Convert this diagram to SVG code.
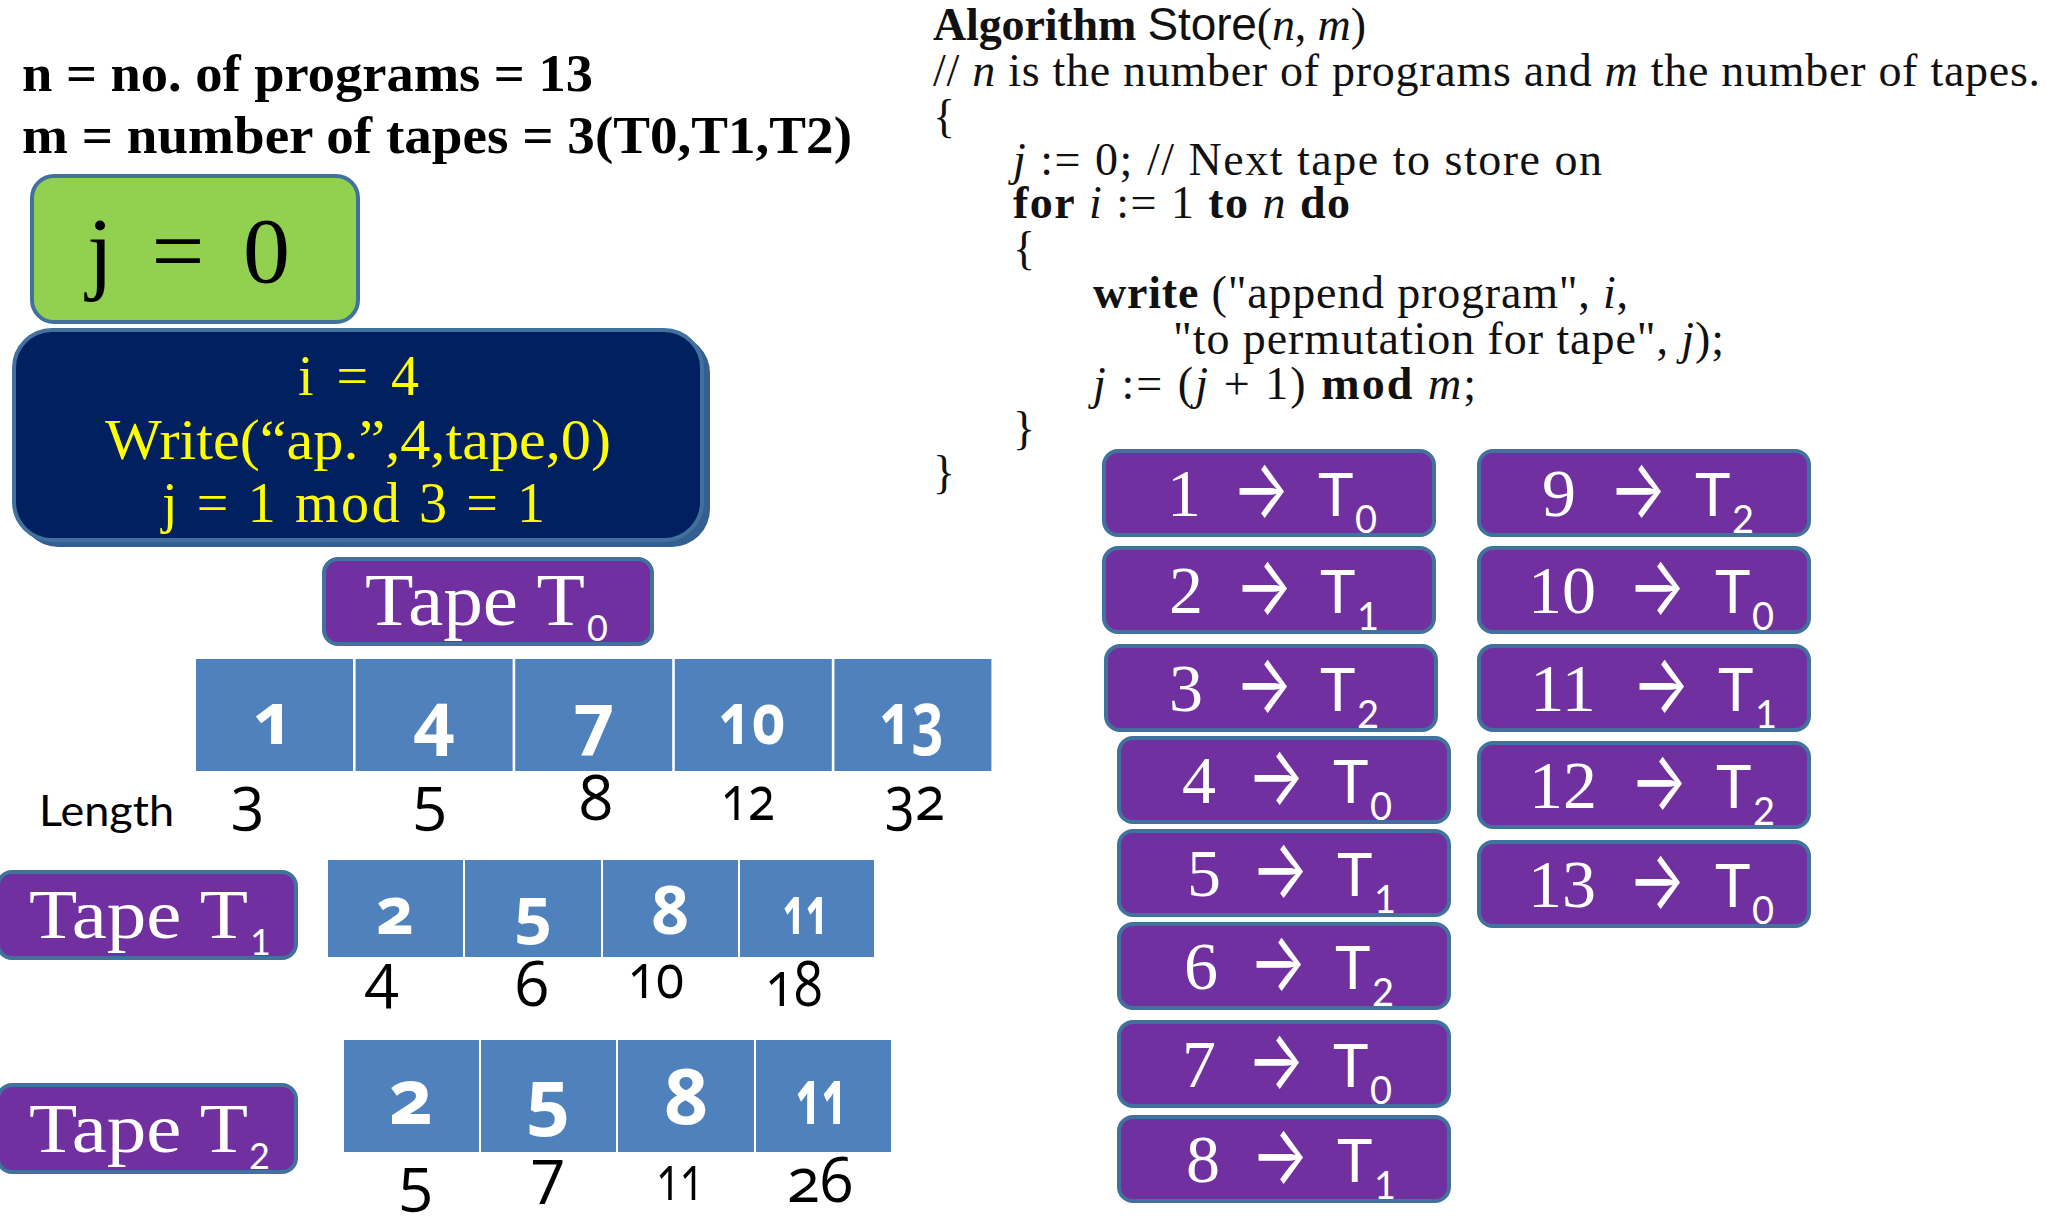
<svg xmlns="http://www.w3.org/2000/svg" width="2048" height="1229" viewBox="0 0 2048 1229">
<style>
.bx{stroke:#41719C;stroke-width:4}
.pu{fill:#7030A0}
.cell{fill:#4F81BD}
.sf{font-family:"Liberation Serif","Times New Roman",serif}
.ss{font-family:Lato,"Open Sans","Liberation Sans",sans-serif}
.ar{font-family:Inter,"DejaVu Sans",sans-serif;font-weight:400}
.w{fill:#FFFFFF}
.k{fill:#000000}
.y{fill:#FFFF00}
.num{font-size:68px}
.tt{font-size:60px}
.sub{font-size:38px}
.arr{font-size:84px}
.alg{font-family:"Liberation Serif","Times New Roman",serif;font-size:46px;fill:#111}
.b{font-weight:bold}
.i{font-style:italic}
.cs{font-family:"Open Sans","Noto Sans",sans-serif;font-weight:bold;fill:#FFFFFF;text-anchor:middle;font-variant-numeric:oldstyle-nums;font-feature-settings:"onum" 1}
.ln{font-family:"Open Sans","Noto Sans",sans-serif;font-size:62px;fill:#000;text-anchor:middle;font-variant-numeric:oldstyle-nums;font-feature-settings:"onum" 1}
</style>
<rect width="2048" height="1229" fill="#FFFFFF"/>

<g id="header">
<text class="sf b k" x="22" y="91" font-size="52" textLength="571" lengthAdjust="spacingAndGlyphs">n = no. of programs = 13</text>
<text class="sf b k" x="22" y="153" font-size="52" textLength="830" lengthAdjust="spacingAndGlyphs">m = number of tapes = 3(T0,T1,T2)</text>
</g>

<g id="j-box">
<rect class="bx" x="32" y="176" width="326" height="146" rx="22" fill="#92D050"/>
<text class="sf k" x="87" y="282" font-size="94" textLength="203" lengthAdjust="spacing">j = 0</text>
</g>

<g id="step-box">
<rect x="20" y="335" width="690" height="212" rx="38" fill="#365F91"/>
<rect class="bx" x="14" y="330" width="688" height="210" rx="38" fill="#002060"/>
<text class="sf y" x="298" y="395" font-size="56" textLength="121" lengthAdjust="spacing">i = 4</text>
<text class="sf y" x="105" y="459" font-size="56" textLength="506" lengthAdjust="spacingAndGlyphs">Write(“ap.”,4,tape,0)</text>
<text class="sf y" x="162" y="522" font-size="56" textLength="383" lengthAdjust="spacing">j = 1 mod 3 = 1</text>
</g>

<g id="tape-t0-label">
<rect class="bx pu" x="324" y="559" width="328" height="85" rx="14"/>
<text class="sf w" x="365" y="625" font-size="74" textLength="220" lengthAdjust="spacingAndGlyphs">Tape T</text>
<text class="ss w" x="587" y="641" font-size="36">0</text>
</g>

<g id="tape-t0">
<rect class="cell" x="196" y="659" width="157" height="112"/>
<rect class="cell" x="355.6" y="659" width="157" height="112"/>
<rect class="cell" x="515.2" y="659" width="157" height="112"/>
<rect class="cell" x="674.8" y="659" width="157" height="112"/>
<rect class="cell" x="834.4" y="659" width="157" height="112"/>
<text class="cs" font-size="72" x="274" y="744">1</text>
<text class="cs" font-size="72" x="434" y="744">4</text>
<text class="cs" font-size="72" x="594" y="744">7</text>
<text class="cs" font-size="72" x="752" y="744" textLength="66" lengthAdjust="spacingAndGlyphs">10</text>
<text class="cs" font-size="72" x="912" y="744" textLength="64" lengthAdjust="spacingAndGlyphs">13</text>
</g>

<g id="tape-t0-lengths">
<text x="39" y="826" font-family="Lato, 'Liberation Sans', sans-serif" font-size="42" fill="#000" textLength="135" lengthAdjust="spacingAndGlyphs">Length</text>
<text class="ln" x="248" y="820">3</text>
<text class="ln" x="430" y="820">5</text>
<text class="ln" x="596" y="820">8</text>
<text class="ln" x="748" y="820" textLength="54" lengthAdjust="spacingAndGlyphs">12</text>
<text class="ln" x="915" y="820" textLength="60" lengthAdjust="spacingAndGlyphs">32</text>
</g>

<g id="tape-t1-label">
<rect class="bx pu" x="-2" y="872" width="298" height="86" rx="14"/>
<text class="sf w" x="29" y="938" font-size="70" textLength="219" lengthAdjust="spacingAndGlyphs">Tape T</text>
<text class="ss w" x="250" y="955" font-size="36">1</text>
</g>

<g id="tape-t1">
<rect class="cell" x="328" y="860" width="135" height="97"/>
<rect class="cell" x="465" y="860" width="136" height="97"/>
<rect class="cell" x="603" y="860" width="135" height="97"/>
<rect class="cell" x="740" y="860" width="134" height="97"/>
<text class="cs" font-size="66" x="395" y="934">2</text>
<text class="cs" font-size="66" x="533" y="934">5</text>
<text class="cs" font-size="66" x="670" y="934">8</text>
<text class="cs" font-size="66" x="806" y="934" textLength="46" lengthAdjust="spacingAndGlyphs">11</text>
</g>

<g id="tape-t1-lengths">
<text class="ln" x="382" y="998">4</text>
<text class="ln" x="532" y="1006">6</text>
<text class="ln" x="656" y="998" textLength="56" lengthAdjust="spacingAndGlyphs">10</text>
<text class="ln" x="794" y="1006" textLength="57" lengthAdjust="spacingAndGlyphs">18</text>
</g>

<g id="tape-t2-label">
<rect class="bx pu" x="-2" y="1085" width="298" height="87" rx="14"/>
<text class="sf w" x="29" y="1152" font-size="70" textLength="219" lengthAdjust="spacingAndGlyphs">Tape T</text>
<text class="ss w" x="249" y="1169" font-size="36">2</text>
</g>

<g id="tape-t2">
<rect class="cell" x="344" y="1040" width="135" height="112"/>
<rect class="cell" x="481" y="1040" width="135" height="112"/>
<rect class="cell" x="618" y="1040" width="136" height="112"/>
<rect class="cell" x="756" y="1040" width="135" height="112"/>
<text class="cs" font-size="77" x="411" y="1124">2</text>
<text class="cs" font-size="77" x="548" y="1124">5</text>
<text class="cs" font-size="77" x="686" y="1124">8</text>
<text class="cs" font-size="77" x="822" y="1124" textLength="52" lengthAdjust="spacingAndGlyphs">11</text>
</g>

<g id="tape-t2-lengths">
<text class="ln" x="416" y="1201">5</text>
<text class="ln" x="548" y="1193">7</text>
<text class="ln" x="680" y="1200" textLength="47" lengthAdjust="spacingAndGlyphs">11</text>
<text class="ln" x="820" y="1202" textLength="66" lengthAdjust="spacingAndGlyphs">26</text>
</g>

<g id="algorithm">
<text class="alg" x="933" y="40" textLength="433" lengthAdjust="spacing"><tspan class="b">Algorithm</tspan> <tspan font-family="'Liberation Sans',sans-serif">Store</tspan>(<tspan class="i">n</tspan>, <tspan class="i">m</tspan>)</text>
<text class="alg" x="933" y="86" textLength="1107" lengthAdjust="spacing">// <tspan class="i">n</tspan> is the number of programs and <tspan class="i">m</tspan> the number of tapes.</text>
<text class="alg" x="933" y="132">{</text>
<text class="alg" x="1013" y="175" textLength="589" lengthAdjust="spacing"><tspan class="i">j</tspan> := 0; // Next tape to store on</text>
<text class="alg" x="1013" y="218" textLength="337" lengthAdjust="spacing"><tspan class="b">for</tspan> <tspan class="i">i</tspan> := 1 <tspan class="b">to</tspan> <tspan class="i">n</tspan> <tspan class="b">do</tspan></text>
<text class="alg" x="1013" y="264">{</text>
<text class="alg" x="1093" y="308" textLength="535" lengthAdjust="spacing"><tspan class="b">write</tspan> ("append program", <tspan class="i">i</tspan>,</text>
<text class="alg" x="1173" y="354" textLength="551" lengthAdjust="spacing">"to permutation for tape", <tspan class="i">j</tspan>);</text>
<text class="alg" x="1093" y="399" textLength="383" lengthAdjust="spacing"><tspan class="i">j</tspan> := (<tspan class="i">j</tspan> + 1) <tspan class="b">mod</tspan> <tspan class="i">m</tspan>;</text>
<text class="alg" x="1013" y="444">}</text>
<text class="alg" x="933" y="488">}</text>
</g>

<g id="map-1" transform="translate(1104,451)">
<rect class="bx pu" width="330" height="84" rx="14"/>
<text class="sf w num" x="80" y="65" text-anchor="middle">1</text>
<text class="ar w arr" x="128" y="67" textLength="58" lengthAdjust="spacingAndGlyphs">→</text>
<text class="ss w tt" x="214" y="65">T</text>
<text class="ss w sub" x="251" y="82">0</text>
</g>
<g id="map-2" transform="translate(1104,548)">
<rect class="bx pu" width="330" height="84" rx="14"/>
<text class="sf w num" x="82" y="65" text-anchor="middle">2</text>
<text class="ar w arr" x="131" y="67" textLength="58" lengthAdjust="spacingAndGlyphs">→</text>
<text class="ss w tt" x="216" y="65">T</text>
<text class="ss w sub" x="253" y="82">1</text>
</g>
<g id="map-3" transform="translate(1106,646)">
<rect class="bx pu" width="330" height="84" rx="14"/>
<text class="sf w num" x="80" y="65" text-anchor="middle">3</text>
<text class="ar w arr" x="129" y="67" textLength="58" lengthAdjust="spacingAndGlyphs">→</text>
<text class="ss w tt" x="214" y="65">T</text>
<text class="ss w sub" x="251" y="82">2</text>
</g>
<g id="map-4" transform="translate(1119,738)">
<rect class="bx pu" width="330" height="84" rx="14"/>
<text class="sf w num" x="80" y="65" text-anchor="middle">4</text>
<text class="ar w arr" x="128" y="67" textLength="58" lengthAdjust="spacingAndGlyphs">→</text>
<text class="ss w tt" x="214" y="65">T</text>
<text class="ss w sub" x="251" y="82">0</text>
</g>
<g id="map-5" transform="translate(1119,831)">
<rect class="bx pu" width="330" height="84" rx="14"/>
<text class="sf w num" x="85" y="65" text-anchor="middle">5</text>
<text class="ar w arr" x="132" y="67" textLength="58" lengthAdjust="spacingAndGlyphs">→</text>
<text class="ss w tt" x="218" y="65">T</text>
<text class="ss w sub" x="255" y="82">1</text>
</g>
<g id="map-6" transform="translate(1119,924)">
<rect class="bx pu" width="330" height="84" rx="14"/>
<text class="sf w num" x="82" y="65" text-anchor="middle">6</text>
<text class="ar w arr" x="130" y="67" textLength="58" lengthAdjust="spacingAndGlyphs">→</text>
<text class="ss w tt" x="216" y="65">T</text>
<text class="ss w sub" x="253" y="82">2</text>
</g>
<g id="map-7" transform="translate(1119,1022)">
<rect class="bx pu" width="330" height="84" rx="14"/>
<text class="sf w num" x="80" y="65" text-anchor="middle">7</text>
<text class="ar w arr" x="128" y="67" textLength="58" lengthAdjust="spacingAndGlyphs">→</text>
<text class="ss w tt" x="214" y="65">T</text>
<text class="ss w sub" x="251" y="82">0</text>
</g>
<g id="map-8" transform="translate(1119,1117)">
<rect class="bx pu" width="330" height="84" rx="14"/>
<text class="sf w num" x="84" y="65" text-anchor="middle">8</text>
<text class="ar w arr" x="132" y="67" textLength="58" lengthAdjust="spacingAndGlyphs">→</text>
<text class="ss w tt" x="218" y="65">T</text>
<text class="ss w sub" x="255" y="82">1</text>
</g>
<g id="map-9" transform="translate(1479,451)">
<rect class="bx pu" width="330" height="84" rx="14"/>
<text class="sf w num" x="80" y="65" text-anchor="middle">9</text>
<text class="ar w arr" x="130" y="67" textLength="58" lengthAdjust="spacingAndGlyphs">→</text>
<text class="ss w tt" x="216" y="65">T</text>
<text class="ss w sub" x="253" y="82">2</text>
</g>
<g id="map-10" transform="translate(1479,548)">
<rect class="bx pu" width="330" height="84" rx="14"/>
<text class="sf w num" x="83" y="65" text-anchor="middle">10</text>
<text class="ar w arr" x="149" y="67" textLength="58" lengthAdjust="spacingAndGlyphs">→</text>
<text class="ss w tt" x="236" y="65">T</text>
<text class="ss w sub" x="273" y="82">0</text>
</g>
<g id="map-11" transform="translate(1479,646)">
<rect class="bx pu" width="330" height="84" rx="14"/>
<text class="sf w num" x="84" y="65" text-anchor="middle">11</text>
<text class="ar w arr" x="153" y="67" textLength="58" lengthAdjust="spacingAndGlyphs">→</text>
<text class="ss w tt" x="239" y="65">T</text>
<text class="ss w sub" x="276" y="82">1</text>
</g>
<g id="map-12" transform="translate(1479,743)">
<rect class="bx pu" width="330" height="84" rx="14"/>
<text class="sf w num" x="84" y="65" text-anchor="middle">12</text>
<text class="ar w arr" x="151" y="67" textLength="58" lengthAdjust="spacingAndGlyphs">→</text>
<text class="ss w tt" x="237" y="65">T</text>
<text class="ss w sub" x="274" y="82">2</text>
</g>
<g id="map-13" transform="translate(1479,842)">
<rect class="bx pu" width="330" height="84" rx="14"/>
<text class="sf w num" x="83" y="65" text-anchor="middle">13</text>
<text class="ar w arr" x="149" y="67" textLength="58" lengthAdjust="spacingAndGlyphs">→</text>
<text class="ss w tt" x="236" y="65">T</text>
<text class="ss w sub" x="273" y="82">0</text>
</g>
</svg>
